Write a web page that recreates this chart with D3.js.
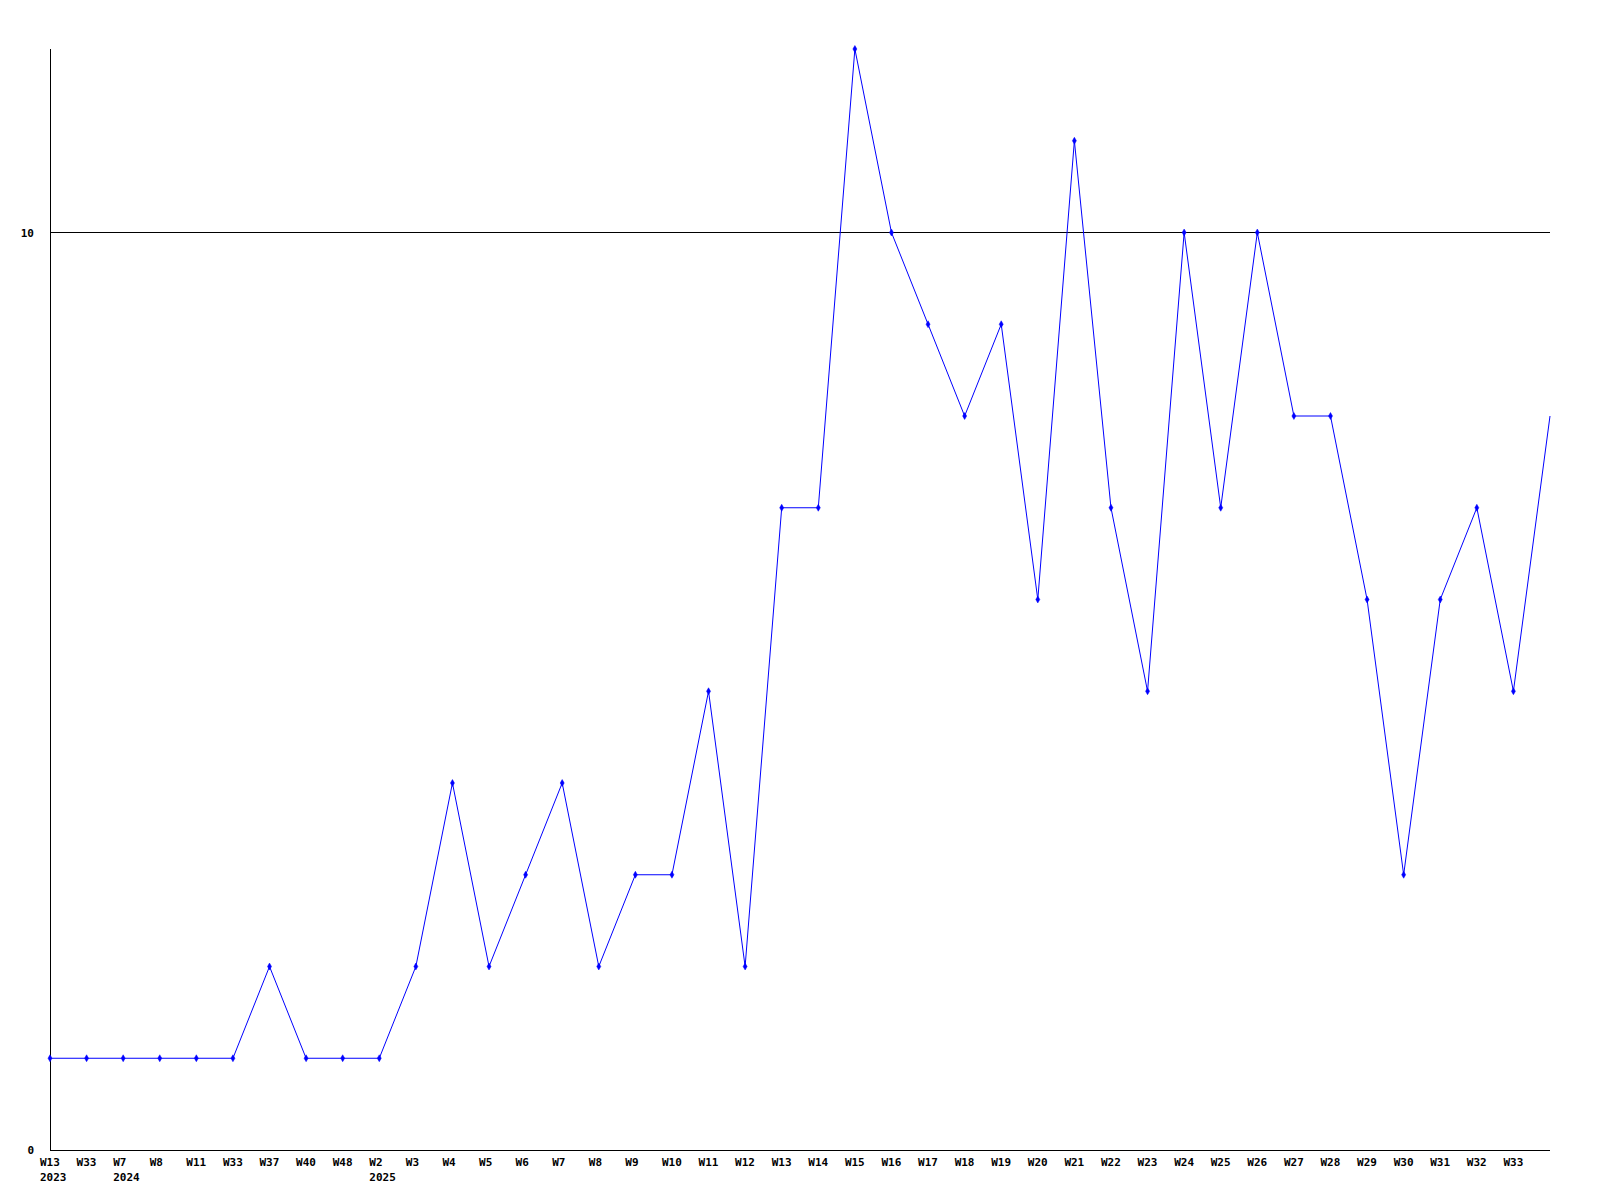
<!DOCTYPE html>
<html><head><meta charset="utf-8">
<script src="https://cdn.jsdelivr.net/npm/d3@7"></script>
<style>body{margin:0;background:#fff}svg{display:block}</style>
</head><body>
<script>
const weeks = ["W13","W33","W7","W8","W11","W33","W37","W40","W48","W2","W3","W4","W5","W6","W7","W8","W9","W10","W11","W12","W13","W14","W15","W16","W17","W18","W19","W20","W21","W22","W23","W24","W25","W26","W27","W28","W29","W30","W31","W32","W33",""];
const years = ["2023","","2024","","","","","","","2025","","","","","","","","","","","","","","","","","","","","","","","","","","","","","","","",""];
const values = [1,1,1,1,1,1,2,1,1,1,2,4,2,3,4,2,3,3,5,2,7,7,12,10,9,8,9,6,11,7,5,10,7,10,8,8,6,3,6,7,5,8];
const yTicks = [0,10];

const W=1600,H=1200;
const mLeft=50,mRight=1550,mTop=49,mBottom=1150;
const svg=d3.select("body").append("svg").attr("width",W).attr("height",H);
const idx=d3.range(values.length);
const x=d3.scalePoint().domain(idx).range([mLeft,mRight]);
const y=d3.scaleLinear().domain([0,12]).range([mBottom,mTop]);
const font="'DejaVu Sans Mono', monospace";

svg.append("g").selectAll("line").data(yTicks.filter(d=>d>0)).join("line")
  .attr("x1",mLeft).attr("x2",mRight).attr("y1",d=>Math.round(y(d))+0.5).attr("y2",d=>Math.round(y(d))+0.5)
  .attr("stroke","#000").attr("stroke-width",1).attr("shape-rendering","crispEdges");

svg.append("line").attr("x1",mLeft+0.5).attr("x2",mLeft+0.5).attr("y1",mTop).attr("y2",mBottom+0.5).attr("stroke","#000").attr("shape-rendering","crispEdges");
svg.append("line").attr("x1",mLeft).attr("x2",mRight).attr("y1",mBottom+0.5).attr("y2",mBottom+0.5).attr("stroke","#000").attr("shape-rendering","crispEdges");

svg.append("g").selectAll("text").data(yTicks).join("text")
  .attr("x",34).attr("y",d=>y(d)+4).attr("text-anchor","end")
  .attr("font-family",font).attr("font-size",11).attr("font-weight","bold").text(d=>d);

const xl=svg.append("g").attr("font-family",font).attr("font-size",11).attr("font-weight","bold");
xl.selectAll("text.w").data(idx).join("text").attr("class","w")
  .attr("x",d=>x(d)-10).attr("y",1166).text(d=>weeks[d]);
xl.selectAll("text.yr").data(idx.filter(i=>years[i])).join("text").attr("class","yr")
  .attr("x",d=>x(d)-10).attr("y",1181).text(d=>years[d]);

const line=d3.line().x(d=>x(d)).y(d=>y(values[d]));
svg.append("path").datum(idx).attr("d",line).attr("fill","none").attr("stroke","#0000ff").attr("stroke-width",1);

svg.append("g").selectAll("path").data(idx.slice(0,-1)).join("path")
  .attr("transform",d=>`translate(${x(d)},${y(values[d])})`)
  .attr("d",d3.symbol(d3.symbolDiamond,14))
  .attr("fill","#0000ff").attr("stroke","#0000ff").attr("stroke-width",0.5);
</script>
</body></html>
